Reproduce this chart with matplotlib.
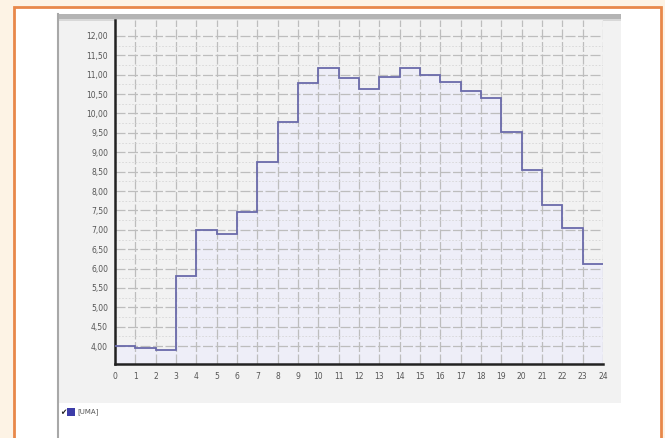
import matplotlib.pyplot as plt
from matplotlib.patches import Rectangle

hours = [0, 1, 2, 3, 4, 5, 6, 7, 8, 9, 10, 11, 12, 13, 14, 15, 16, 17, 18, 19, 20, 21, 22, 23, 24]
values = [4.00, 3.95, 3.90, 5.80, 7.00, 6.88, 7.45, 8.75, 9.78, 10.78, 11.17, 10.91,
          10.62, 10.95, 11.17, 10.98, 10.82, 10.58, 10.39, 9.53, 8.54, 7.63, 7.04, 6.12]
yticks = [4.0, 4.5, 5.0, 5.5, 6.0, 6.5, 7.0, 7.5, 8.0, 8.5, 9.0, 9.5, 10.0, 10.5, 11.0, 11.5, 12.0]
series_name = '[UMA]'

W, H = 665, 438
fig = plt.figure(figsize=(W / 100, H / 100), dpi=100)
fig.patch.set_facecolor('#fdf3e5')

# background frame drawn in pixel space
bg = fig.add_axes([0, 0, 1, 1])
bg.set_xlim(0, W)
bg.set_ylim(H, 0)
bg.axis('off')
bg.add_patch(Rectangle((14, 7), 647, 440, facecolor='white', edgecolor='#e8884a', lw=2))
bg.add_patch(Rectangle((57, 14), 564, 389, facecolor='#f2f2f2', edgecolor='none'))
bg.add_patch(Rectangle((57, 14), 564, 5, facecolor='#b4b4b4', edgecolor='none'))
bg.add_patch(Rectangle((57, 19), 564, 2, facecolor='#d8d8d8', edgecolor='none'))
bg.plot([57.5, 57.5], [14, 438], color='#a8a8a8', lw=1.5)
bg.text(60, 412, '\u2714', fontsize=5.5, color='#222222', va='center', ha='left')
bg.add_patch(Rectangle((67, 408), 8, 8, facecolor='#3c3ca8', edgecolor='none'))
bg.text(77, 412, series_name, fontsize=5, color='#555555', va='center', ha='left')

ax = fig.add_axes([115 / W, 1 - 364 / H, (603 - 115) / W, (364 - 20) / H])
ax.set_facecolor('#f2f2f2')
ax.fill_between(hours, values + [values[-1]], 3.0, step='post', color='#eeeef8', lw=0, zorder=0.2)
ax.stairs(values, hours, color='#6a6aaa', lw=1.3, baseline=None, zorder=3)

ax.set_xlim(0, 24)
ax.set_ylim(3.54, 12.41)
ax.set_xticks(hours)
ax.set_xticklabels([str(h) for h in hours])
ax.set_yticks(yticks)
ax.set_yticklabels([f'{v:.2f}'.replace('.', ',') for v in yticks])
ax.set_yticks([v + 0.25 for v in yticks[:-1]], minor=True)
ax.tick_params(which='both', length=0, labelsize=5.5, labelcolor='#555555')
ax.tick_params(axis='y', pad=5)
ax.tick_params(axis='x', pad=6)
ax.grid(True, which='major', color='#bdbdbd', lw=0.9, ls=(0, (8, 2)))
ax.grid(True, which='minor', axis='y', color='#d6d6d6', lw=0.6, ls=(0, (2, 2)))
ax.set_axisbelow(True)
for s in ['top', 'right']:
    ax.spines[s].set_visible(False)
for s in ['left', 'bottom']:
    ax.spines[s].set_linewidth(1.8)
    ax.spines[s].set_color('#222222')

fig.savefig('out.png', dpi=100, facecolor=fig.get_facecolor())
